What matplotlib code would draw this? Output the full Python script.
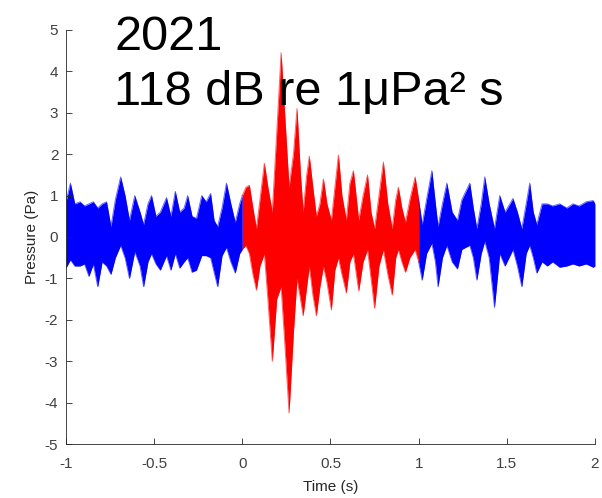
import numpy as np
import matplotlib.pyplot as plt

plt.rcParams['font.family'] = ['Liberation Sans', 'DejaVu Sans']

# envelope of the trace: time (s), upper (Pa), lower (Pa)
t_pre = [-1.000, -0.975, -0.950, -0.920, -0.895, -0.870, -0.845, -0.820, -0.795, -0.770,
         -0.745, -0.720, -0.690, -0.665, -0.640, -0.610, -0.580, -0.560, -0.535, -0.515,
         -0.490, -0.465, -0.430, -0.405, -0.380, -0.355, -0.330, -0.310, -0.285, -0.260,
         -0.230, -0.205, -0.180, -0.160, -0.140, -0.115, -0.090, -0.065, -0.040, -0.015, 0.000]
hi_pre = [0.85, 1.30, 0.80, 0.85, 0.75, 0.80, 0.85, 0.70, 0.80, 0.85,
          0.25, 0.90, 1.45, 1.00, 0.40, 1.00, 0.60, 0.30, 0.80, 1.00,
          0.50, 0.60, 0.95, 0.50, 1.10, 0.60, 0.70, 1.00, 0.50, 0.45,
          1.00, 0.85, 1.05, 0.40, 0.25, 0.70, 1.30, 0.80, 0.35, 0.80, 1.00]
lo_pre = [-0.75, -0.55, -0.70, -0.70, -0.65, -0.95, -0.65, -1.20, -0.60, -0.70,
          -0.90, -0.50, -0.20, -0.50, -1.00, -0.35, -0.70, -1.20, -0.60, -0.40,
          -0.65, -0.80, -0.45, -0.80, -0.40, -0.75, -0.60, -0.50, -0.85, -0.80,
          -0.45, -0.45, -0.50, -0.85, -1.20, -0.45, -0.25, -0.60, -0.87, -0.40, -0.30]

t_evt = [0.000, 0.020, 0.040, 0.060, 0.080, 0.100, 0.125, 0.145, 0.170, 0.195,
         0.220, 0.240, 0.265, 0.290, 0.310, 0.330, 0.345, 0.365, 0.380, 0.400,
         0.420, 0.440, 0.460, 0.480, 0.505, 0.525, 0.545, 0.565, 0.590, 0.610,
         0.630, 0.660, 0.685, 0.710, 0.730, 0.750, 0.775, 0.800, 0.825, 0.850,
         0.870, 0.885, 0.905, 0.925, 0.950, 0.980, 1.000]
hi_evt = [1.00, 1.20, 1.25, 0.70, 0.20, 0.90, 1.78, 1.20, 0.60, 2.50,
          4.45, 3.00, 1.20, 2.00, 3.10, 1.50, 0.60, 1.50, 1.95, 1.20,
          0.50, 0.80, 1.40, 0.80, 0.40, 1.20, 1.98, 1.00, 0.40, 1.30,
          1.60, 0.40, 1.00, 1.50, 0.60, 0.20, 1.00, 1.81, 0.80, 0.20,
          0.90, 1.20, 0.70, 0.35, 0.90, 1.45, 0.90]
lo_evt = [-0.30, -0.20, -0.40, -0.90, -1.28, -0.70, -0.40, -1.50, -3.00, -1.50,
          -1.20, -2.50, -4.25, -2.30, -1.00, -1.50, -1.90, -1.20, -0.70, -1.40,
          -1.90, -1.20, -0.70, -1.10, -1.76, -0.80, -0.50, -0.90, -1.35, -0.60,
          -0.40, -1.30, -0.60, -0.30, -1.00, -1.72, -0.70, -0.30, -0.90, -1.40,
          -0.50, -0.30, -0.60, -0.85, -0.50, -0.30, -0.60]

t_post = [1.000, 1.020, 1.045, 1.075, 1.095, 1.110, 1.135, 1.160, 1.190, 1.220,
          1.245, 1.290, 1.310, 1.330, 1.355, 1.375, 1.400, 1.430, 1.460, 1.490,
          1.535, 1.560, 1.585, 1.610, 1.630, 1.650, 1.670, 1.700, 1.730, 1.760,
          1.800, 1.840, 1.875, 1.910, 1.950, 1.990, 2.000]
hi_post = [0.90, 0.30, 0.90, 1.60, 0.80, 0.25, 0.80, 1.30, 0.60, 0.40,
           0.90, 1.30, 0.70, 0.20, 0.80, 1.45, 0.80, 0.20, 1.00, 0.60,
           0.93, 0.60, 0.20, 0.80, 1.30, 0.60, 0.30, 0.80, 0.80, 0.75,
           0.80, 0.70, 0.80, 0.75, 0.85, 0.88, 0.80]
lo_post = [-0.60, -1.04, -0.40, -0.15, -0.60, -1.20, -0.50, -0.20, -0.60, -0.77,
           -0.30, -0.20, -0.50, -1.04, -0.40, -0.10, -0.50, -1.70, -0.40, -0.70,
           -0.30, -0.70, -1.20, -0.40, -0.20, -0.50, -0.87, -0.60, -0.70, -0.60,
           -0.73, -0.70, -0.65, -0.70, -0.65, -0.73, -0.70]

title_lines = ['2021', '118 dB re 1\u03bcPa\u00b2 s']

fig = plt.figure(figsize=(6.02, 4.98), dpi=100)
ax = fig.add_axes([0.1096, 0.1084, 0.8787, 0.8314])

for t, hi, lo, col in [(t_pre, hi_pre, lo_pre, '#0000ff'),
                       (t_evt, hi_evt, lo_evt, '#ff0000'),
                       (t_post, hi_post, lo_post, '#0000ff')]:
    ax.fill_between(t, lo, hi, color=col, lw=0)
    ax.plot(t, hi, color=col, lw=0.7, alpha=0.6)
    ax.plot(t, lo, color=col, lw=0.7, alpha=0.6)

ax.set_xlim(-1, 2)
ax.set_ylim(-5, 5)
ax.set_xticks([-1, -0.5, 0, 0.5, 1, 1.5, 2])
ax.set_xticklabels(['-1', '-0.5', '0', '0.5', '1', '1.5', '2'])
ax.set_yticks(range(-5, 6))
ax.set_yticklabels([str(v) for v in range(-5, 6)])
ax.spines['top'].set_visible(False)
ax.spines['right'].set_visible(False)
for s in ['left', 'bottom']:
    ax.spines[s].set_color('#262626')
    ax.spines[s].set_linewidth(0.6)
ax.tick_params(direction='in', length=4, width=0.6, colors='#262626',
               labelsize=11, labelcolor='#404040')
ax.tick_params(axis='x', pad=9)
ax.tick_params(axis='y', pad=5.5)
ax.set_xlabel('Time (s)', fontsize=11, color='#262626', labelpad=7)
ax.set_ylabel('Pressure (Pa)', fontsize=11, color='#262626', labelpad=4)

fig.text(0.19, 0.90, title_lines[0], fontsize=35, color='black', va='baseline')
fig.text(0.19, 0.79, title_lines[1], fontsize=35, color='black', va='baseline')

fig.savefig('out.png', dpi=100)
